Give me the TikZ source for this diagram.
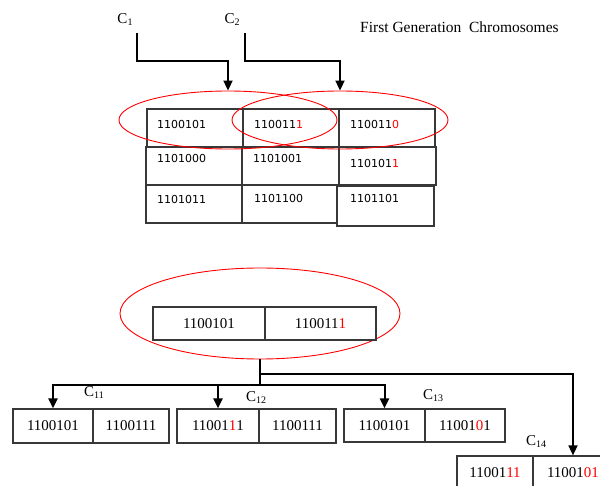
\documentclass[tikz,border=0pt]{standalone}
\usepackage{fontspec}
\setmainfont{Liberation Serif}
\newfontfamily\gridfont{DejaVu Sans}
\usetikzlibrary{arrows.meta,shapes.geometric}
\newcommand{\rd}[1]{\textcolor{red}{#1}}
\newcommand{\Csub}[1]{C\raisebox{-2pt}{\fontsize{10}{10}\selectfont #1}}

\tikzset{
  gridline/.style={draw=black!78, line width=1.2pt},
  gtext/.style={font=\gridfont\fontsize{11}{13}\selectfont, inner sep=0pt, anchor=west},
  redell/.style={ellipse, draw=red, line width=0.9pt, inner sep=0pt},
  pairbox/.style={draw=black!78, line width=1.2pt, inner sep=0pt,
    font=\fontsize{15}{18}\selectfont},
  clabel/.style={font=\fontsize{15}{18}\selectfont, inner sep=0pt},
  conn/.style={line width=2pt},
  tip/.style={-{Triangle[width=9pt,length=10pt]}}
}

\begin{document}
\begin{tikzpicture}[x=1pt,y=-1pt]
\path[use as bounding box, clip] (0,0) rectangle (600,486);

% ---------- first generation table ----------
\draw[gridline] (147,109) rectangle (243,147);
\draw[gridline] (243,109) rectangle (339,147);
\draw[gridline] (339,109) rectangle (435,147);
\draw[gridline] (146,147) rectangle (242,185);
\draw[gridline] (242,147) rectangle (339,185);
\draw[gridline] (339,147) rectangle (436,185);
\draw[gridline] (146,185) rectangle (242,223);
\draw[gridline] (242,185) rectangle (337,223);
\draw[gridline] (337,186) rectangle (434,226);

\node[gtext] (t11) at (157,124) {1100101};
\node[gtext] (t12) at (254,124) {110011\rd{1}};
\node[gtext] (t13) at (350,124) {110011\rd{0}};
\node[gtext] (t21) at (157,158) {1101000};
\node[gtext] (t22) at (253,158) {1101001};
\node[gtext] (t23) at (350,163) {110101\rd{1}};
\node[gtext] (t31) at (157,199) {1101011};
\node[gtext] (t32) at (254,198) {1101100};
\node[gtext] (t33) at (350,198) {1101101};

% selected pair
\node[redell, minimum width=218pt, minimum height=58pt] (e1) at (228,120) {};
\node[redell, minimum width=216pt, minimum height=58pt] (e2) at (340,120) {};

\node[clabel] (c1) at (125,20) {\Csub{1}};
\node[clabel] (c2) at (232,20) {\Csub{2}};
\node[clabel, font=\fontsize{15.5}{18}\selectfont, anchor=base west] (title) at (360,33) {First Generation\ \ Chromosomes};

\coordinate (s1) at (137,33);
\coordinate (s2) at (245,33);
\draw[conn, tip] (s1) -- ++(0,28) -| (e1.north);
\draw[conn, tip] (s2) -- ++(0,28) -| (e2.north);

% ---------- parents ----------
\node[redell, minimum width=280pt, minimum height=91pt] (e3) at (260,313.5) {};
\node[pairbox, minimum width=112pt, minimum height=33pt] (p1) at (209,323.5) {1100101};
\node[pairbox, minimum width=111pt, minimum height=33pt] (p2) at (320.5,323.5) {110011\rd{1}};

% ---------- offspring ----------
\node[pairbox, minimum width=80pt, minimum height=34pt] (b1l) at (53,426) {1100101};
\node[pairbox, minimum width=76pt, minimum height=34pt] (b1r) at (131,426) {1100111};
\node[pairbox, minimum width=82pt, minimum height=34pt] (b2l) at (218,426) {11001\rd{1}1};
\node[pairbox, minimum width=77pt, minimum height=34pt] (b2r) at (297.5,426) {1100111};
\node[pairbox, minimum width=81pt, minimum height=33pt] (b3l) at (384.5,425.5) {1100101};
\node[pairbox, minimum width=80pt, minimum height=33pt] (b3r) at (465,425.5) {11001\rd{0}1};
\node[pairbox, minimum width=76pt, minimum height=34pt] (b4l) at (495,473) {11001\rd{11}};
\node[pairbox, minimum width=80pt, minimum height=34pt] (b4r) at (573,473) {11001\rd{01}};

\node[clabel] (c11) at (94,393) {\Csub{11}};
\node[clabel] (c12) at (256,398) {\Csub{12}};
\node[clabel] (c13) at (433,396) {\Csub{13}};
\node[clabel] (c14) at (536,442) {\Csub{14}};

\coordinate (branch) at (260,374);
\coordinate (split) at (260,385);
\draw[conn] (e3.south) -- (split);
\draw[conn, tip] (split) -| (b1l.north);
\draw[conn, tip] (split) -| (b2l.north);
\draw[conn, tip] (split) -| (b3l.north);
\draw[line width=1.6pt, tip] (branch) -| (b4r.north);
\end{tikzpicture}
\end{document}
